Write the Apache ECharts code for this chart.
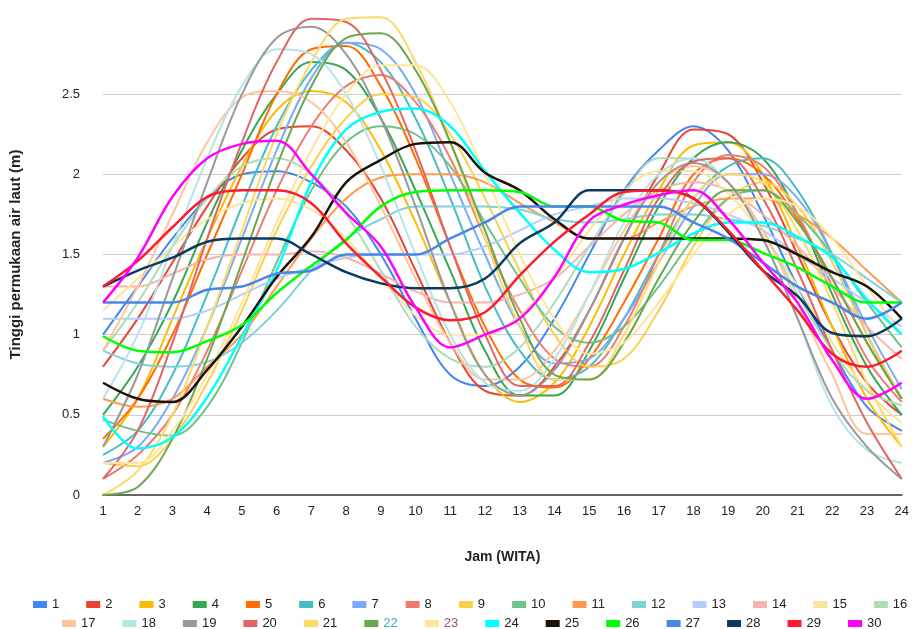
<!DOCTYPE html>
<html>
<head>
<meta charset="utf-8">
<script src="https://cdn.jsdelivr.net/npm/echarts@6/dist/echarts.min.js"></script>
<style>
  html, body { margin: 0; padding: 0; background: #fff; }
  #chart { width: 912px; height: 629px; }
</style>
</head>
<body>
<div id="chart"></div>
<script>
// jam 1..24
const hours = ['1','2','3','4','5','6','7','8','9','10','11','12','13','14','15','16','17','18','19','20','21','22','23','24']
const yTicks = [0, 0.5, 1, 1.5, 2, 2.5]

// tinggi muka air per hari (m)
const day1 = [1.0, 1.3, 1.6, 1.85, 2.0, 2.02, 1.95, 1.8, 1.5, 1.1, 0.75, 0.68, 0.8, 1.1, 1.5, 1.9, 2.15, 2.3, 2.15, 1.75, 1.3, 0.9, 0.55, 0.4]
const day2 = [0.8, 1.1, 1.45, 1.8, 2.1, 2.28, 2.3, 2.15, 1.85, 1.4, 0.95, 0.65, 0.62, 0.8, 1.15, 1.6, 2.0, 2.28, 2.25, 1.95, 1.5, 1.05, 0.7, 0.5]
const day3 = [0.3, 0.6, 1.1, 1.6, 2.05, 2.4, 2.52, 2.45, 2.15, 1.7, 1.2, 0.75, 0.58, 0.7, 1.05, 1.5, 1.9, 2.18, 2.2, 2.0, 1.55, 1.05, 0.6, 0.3]
const day4 = [0.5, 0.8, 1.2, 1.7, 2.15, 2.5, 2.7, 2.65, 2.35, 1.9, 1.4, 0.9, 0.62, 0.62, 0.9, 1.35, 1.8, 2.1, 2.2, 2.1, 1.75, 1.25, 0.8, 0.5]
const day5 = [0.35, 0.6, 1.0, 1.5, 2.0, 2.5, 2.78, 2.8, 2.55, 2.1, 1.55, 1.05, 0.72, 0.67, 0.85, 1.2, 1.6, 2.0, 2.1, 2.0, 1.72, 1.35, 0.95, 0.6]
const day6 = [0.25, 0.4, 0.75, 1.25, 1.8, 2.3, 2.65, 2.82, 2.7, 2.35, 1.85, 1.3, 0.9, 0.72, 0.8, 1.1, 1.5, 1.85, 2.05, 2.1, 1.9, 1.5, 1.0, 0.6]
const day7 = [0.2, 0.3, 0.6, 1.05, 1.6, 2.15, 2.6, 2.82, 2.78, 2.5, 2.0, 1.5, 1.05, 0.82, 0.85, 1.1, 1.45, 1.8, 2.0, 2.0, 1.85, 1.5, 1.05, 0.66]
const day8 = [0.1, 0.25, 0.5, 0.9, 1.4, 1.9, 2.3, 2.55, 2.62, 2.45, 2.1, 1.6, 1.15, 0.85, 0.8, 1.05, 1.5, 1.95, 2.12, 2.05, 1.75, 1.3, 0.85, 0.58]
const day9 = [0.2, 0.18, 0.35, 0.7, 1.15, 1.65, 2.05, 2.35, 2.5, 2.48, 2.25, 1.85, 1.4, 1.0, 0.8, 0.85, 1.15, 1.55, 1.85, 1.95, 1.8, 1.45, 1.0, 0.6]
const day10 = [0.47, 0.4, 0.37, 0.55, 0.95, 1.45, 1.9, 2.2, 2.3, 2.25, 2.05, 1.7, 1.35, 1.05, 0.95, 1.05, 1.3, 1.6, 1.85, 1.9, 1.75, 1.5, 1.2, 0.92]
const day11 = [0.6, 0.55, 0.6, 0.8, 1.0, 1.3, 1.6, 1.85, 1.98, 2.0, 2.0, 1.95, 1.82, 1.7, 1.6, 1.6, 1.7, 1.8, 1.85, 1.85, 1.75, 1.6, 1.4, 1.2]
const day12 = [0.9, 0.82, 0.8, 0.83, 0.95, 1.15, 1.4, 1.6, 1.72, 1.8, 1.8, 1.8, 1.78, 1.72, 1.7, 1.72, 1.75, 1.75, 1.72, 1.68, 1.6, 1.5, 1.35, 1.2]
const day13 = [1.1, 1.1, 1.1, 1.15, 1.25, 1.35, 1.42, 1.48, 1.5, 1.5, 1.5, 1.55, 1.65, 1.75, 1.8, 1.85, 1.85, 1.82, 1.75, 1.65, 1.5, 1.35, 1.2, 1.05]
const day14 = [1.3, 1.3, 1.38, 1.47, 1.5, 1.5, 1.52, 1.48, 1.38, 1.27, 1.2, 1.2, 1.25, 1.35, 1.55, 1.75, 1.9, 1.95, 1.9, 1.75, 1.55, 1.3, 1.05, 0.85]
const day15 = [1.15, 1.35, 1.55, 1.72, 1.82, 1.85, 1.78, 1.6, 1.35, 1.12, 1.0, 1.0, 1.12, 1.35, 1.65, 1.9, 2.02, 2.02, 1.88, 1.62, 1.3, 0.95, 0.65, 0.45]
const day16 = [0.9, 1.2, 1.55, 1.85, 2.05, 2.1, 2.0, 1.75, 1.4, 1.05, 0.85, 0.8, 0.92, 1.2, 1.55, 1.88, 2.1, 2.1, 1.95, 1.65, 1.25, 0.9, 0.65, 0.56]
const day17 = [0.9, 1.3, 1.75, 2.2, 2.48, 2.52, 2.45, 2.2, 1.8, 1.35, 0.95, 0.72, 0.72, 0.9, 1.25, 1.65, 1.95, 2.05, 1.95, 1.65, 1.2, 0.75, 0.38, 0.38]
const day18 = [0.6, 1.0, 1.55, 2.1, 2.55, 2.78, 2.75, 2.5, 2.05, 1.5, 1.0, 0.7, 0.65, 0.85, 1.25, 1.7, 2.0, 2.1, 1.95, 1.6, 1.1, 0.55, 0.28, 0.2]
const day19 = [0.3, 0.75, 1.35, 1.95, 2.5, 2.85, 2.92, 2.75, 2.35, 1.8, 1.2, 0.75, 0.62, 0.78, 1.15, 1.6, 1.95, 2.07, 1.95, 1.6, 1.1, 0.6, 0.3, 0.1]
const day20 = [0.1, 0.4, 0.95, 1.6, 2.2, 2.7, 2.97, 2.95, 2.65, 2.15, 1.55, 1.0, 0.68, 0.68, 0.95, 1.4, 1.85, 2.08, 2.1, 1.85, 1.4, 0.9, 0.45, 0.1]
const day21 = [0.0, 0.15, 0.5, 1.05, 1.65, 2.25, 2.7, 2.97, 2.98, 2.7, 2.2, 1.6, 1.05, 0.72, 0.72, 1.0, 1.45, 1.85, 2.0, 1.95, 1.65, 1.2, 0.7, 0.3]
const day22 = [0.0, 0.05, 0.35, 0.85, 1.45, 2.05, 2.55, 2.85, 2.88, 2.65, 2.2, 1.65, 1.1, 0.75, 0.72, 0.95, 1.35, 1.7, 1.9, 1.9, 1.7, 1.35, 0.95, 0.6]
const day23 = [0.2, 0.2, 0.4, 0.75, 1.2, 1.7, 2.15, 2.5, 2.68, 2.68, 2.45, 2.0, 1.5, 1.1, 0.88, 0.95, 1.2, 1.5, 1.75, 1.85, 1.8, 1.6, 1.3, 1.0]
const day24 = [0.49, 0.29, 0.36, 0.61, 0.99, 1.4, 1.95, 2.28, 2.39, 2.41, 2.3, 2.02, 1.76, 1.53, 1.39, 1.41, 1.51, 1.63, 1.7, 1.7, 1.61, 1.48, 1.22, 1.0]
const day25 = [0.7, 0.6, 0.58, 0.78, 1.05, 1.36, 1.61, 1.95, 2.09, 2.19, 2.2, 2.01, 1.9, 1.72, 1.6, 1.6, 1.6, 1.6, 1.6, 1.59, 1.5, 1.39, 1.3, 1.1]
const day26 = [0.99, 0.9, 0.89, 0.96, 1.06, 1.26, 1.43, 1.59, 1.8, 1.89, 1.9, 1.9, 1.89, 1.8, 1.8, 1.71, 1.7, 1.59, 1.59, 1.51, 1.42, 1.3, 1.2, 1.2]
const day27 = [1.2, 1.2, 1.2, 1.28, 1.3, 1.38, 1.4, 1.5, 1.5, 1.5, 1.6, 1.7, 1.8, 1.8, 1.8, 1.8, 1.8, 1.7, 1.6, 1.45, 1.3, 1.2, 1.1, 1.2]
const day28 = [1.3, 1.4, 1.48, 1.58, 1.6, 1.6, 1.5, 1.39, 1.32, 1.29, 1.29, 1.35, 1.57, 1.7, 1.9, 1.9, 1.9, 1.85, 1.64, 1.4, 1.24, 1.01, 0.99, 1.1]
const day29 = [1.3, 1.46, 1.67, 1.86, 1.9, 1.9, 1.82, 1.57, 1.36, 1.17, 1.09, 1.14, 1.37, 1.58, 1.75, 1.89, 1.9, 1.85, 1.65, 1.4, 1.15, 0.88, 0.8, 0.9]
const day30 = [1.2, 1.48, 1.86, 2.1, 2.19, 2.21, 2.0, 1.76, 1.55, 1.17, 0.92, 1.0, 1.1, 1.36, 1.71, 1.81, 1.87, 1.9, 1.72, 1.45, 1.2, 0.84, 0.6, 0.7]

const days = [day1, day2, day3, day4, day5, day6, day7, day8, day9, day10,
  day11, day12, day13, day14, day15, day16, day17, day18, day19, day20,
  day21, day22, day23, day24, day25, day26, day27, day28, day29, day30]

const colors = ['#4285f4', '#ea4335', '#fbbc04', '#34a853', '#ff6d01', '#46bdc6', '#7baaf7', '#f07b72', '#fcd04f', '#71c287',
  '#ff994d', '#7ed1d7', '#b3cefb', '#f7b4ae', '#fde49b', '#aedcba', '#ffc599', '#b5e5e8', '#999999', '#e06666',
  '#ffd966', '#6aa84f', '#ffe599', '#00ffff', '#1c1208', '#00ff00', '#4a86e8', '#0b3a5e', '#ff1a2e', '#ff00ff']

const font = 'Arial, "Liberation Sans", sans-serif'

const chart = echarts.init(document.getElementById('chart'))

const series = days.map((d, i) => ({
  name: String(i + 1),
  type: 'line',
  data: d,
  smooth: 0.35,
  symbol: 'none',
  lineStyle: { width: i >= 23 ? 2.5 : 2, color: colors[i] },
  itemStyle: { color: colors[i] },
}))

function legendItems(from, to) {
  const out = []
  for (let i = from; i <= to; i++) {
    const item = { name: String(i) }
    // warna teks legenda 22 & 23 beda di gambar asli
    if (i === 22) item.textStyle = { color: '#3aaeb8' }
    if (i === 23) item.textStyle = { color: '#a64d79' }
    out.push(item)
  }
  return out
}

const legendBase = {
  itemWidth: 14,
  itemHeight: 7,
  itemGap: 27,
  icon: 'rect',
  textStyle: { fontSize: 13, color: '#222', fontFamily: font },
}

chart.setOption({
  animation: false,
  color: colors,
  grid: { left: 103, right: 8, top: 14, bottom: 134 },
  legend: [
    Object.assign({}, legendBase, { left: 28, width: 884, top: 593, data: legendItems(1, 16) }),
    Object.assign({}, legendBase, { left: 57, width: 855, top: 612, data: legendItems(17, 30) }),
  ],
  xAxis: {
    type: 'category',
    data: hours,
    boundaryGap: false,
    name: 'Jam (WITA)',
    nameLocation: 'middle',
    nameGap: 55,
    nameTextStyle: { fontSize: 14, fontWeight: 'bold', color: '#222', fontFamily: font },
    axisLine: { lineStyle: { color: '#666', width: 2 } },
    axisTick: { show: false },
    axisLabel: { fontSize: 13, color: '#222', margin: 10, fontFamily: font },
  },
  yAxis: {
    type: 'value',
    min: 0,
    max: 3,
    interval: 0.5,
    name: 'Tinggi permukaan air laut (m)',
    nameLocation: 'middle',
    nameGap: 80,
    nameTextStyle: { fontSize: 15, fontWeight: 'bold', color: '#222', fontFamily: font },
    axisLine: { show: false },
    axisTick: { show: false },
    axisLabel: {
      fontSize: 13,
      color: '#222',
      margin: 23,
      fontFamily: font,
      formatter: v => (yTicks.indexOf(v) >= 0 ? String(v) : ''),
    },
    splitLine: {
      lineStyle: { color: ['#ccc', '#ccc', '#ccc', '#ccc', '#ccc', '#ccc', 'rgba(0,0,0,0)'], width: 1 },
    },
  },
  series: series,
})
</script>
</body>
</html>
